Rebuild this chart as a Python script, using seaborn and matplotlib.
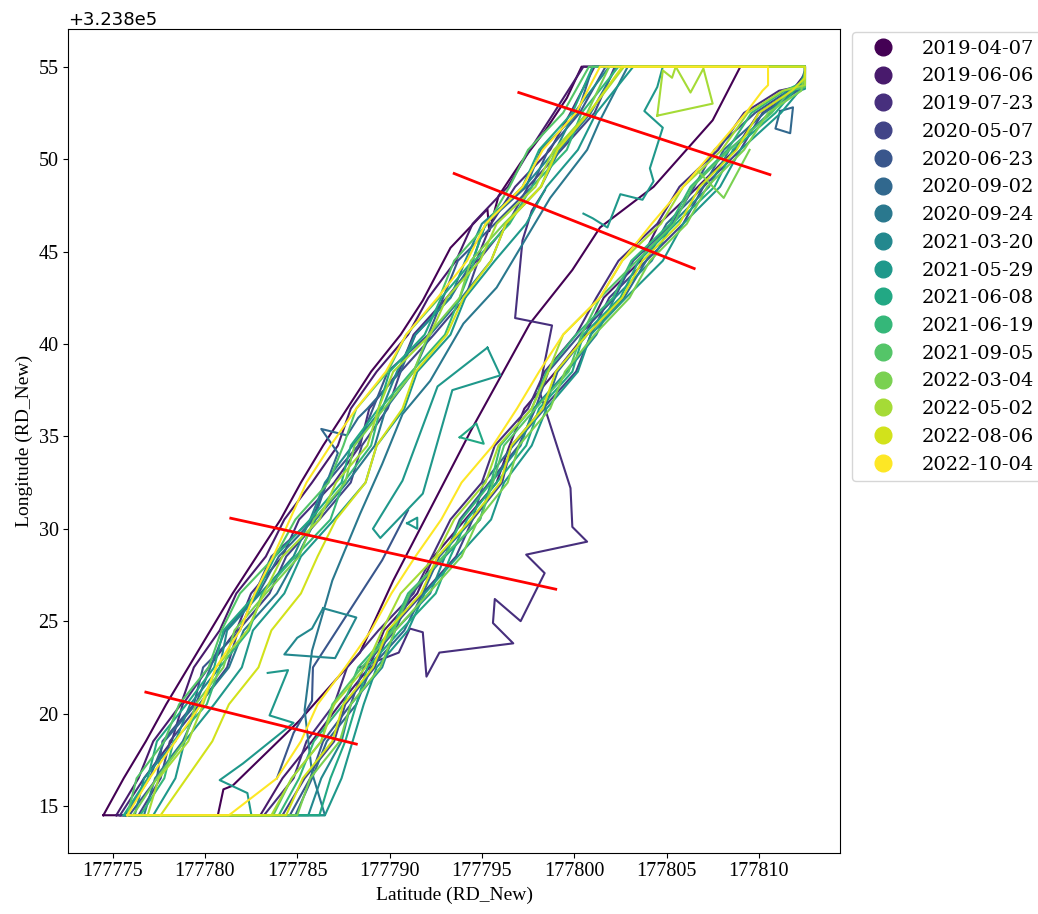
import matplotlib
matplotlib.use("Agg")
import matplotlib.pyplot as plt
from matplotlib.lines import Line2D
import numpy as np
import pandas as pd
import seaborn as sns

# Local grid origin (RD_New); all bank positions below are metres from it.
E0 = 177775.0
N0 = 323800.0

DATES = ["2019-04-07", "2019-06-06", "2019-07-23", "2020-05-07", "2020-06-23",
         "2020-09-02", "2020-09-24", "2021-03-20", "2021-05-29", "2021-06-08",
         "2021-06-19", "2021-09-05", "2022-03-04", "2022-05-02", "2022-08-06",
         "2022-10-04"]

# Section limits of the surveyed reach
N_NORTH = 55.0
E_EAST = 37.5

# Northings at which the west bank is sampled (south -> north)
LEFT_N = [14.5, 16.5, 18.5, 20.5, 22.5, 24.5, 26.5, 28.5, 30.5, 32.5, 34.5,
          36.5, 38.5, 40.5, 42.5, 44.5, 46.5, 48.5, 50.5, 52.5, 55.0]
# Northings at which the east bank is sampled (north -> south)
RIGHT_N = [53.7, 52.5, 50.5, 48.5, 46.5, 44.5, 42.5, 40.5, 38.5, 36.5, 34.5,
           32.5, 30.5, 28.5, 26.5, 24.5, 22.5, 20.5, 18.5, 16.5, 14.5]

# West bank eastings per survey
LEFT_E = {
    "2019-06-06": [0.2, 1.4, 2.2, 3.7, 4.4, 5.8, 6.7, 8.3, 9.3, 10.8, 12.2, 12.9, 14.3, 16.0, 17.1, 18.6, 19.5, 21.4, 22.6, 23.9, 25.5],
    "2019-07-23": [0.4, 1.7, 3.2, 3.8, 5.2, 6.7, 7.5, 9.2, 10.1, 12.0, 13.4, 13.9, 15.5, 16.3, 18.1, 19.7, 20.5, 21.8, 23.7, 24.8, 26.1],
    "2020-05-07": [1.4, 2.6, 3.1, 4.7, 6.2, 6.8, 8.5, 9.4, 11.2, 12.9, 13.5, 14.9, 15.6, 17.4, 19.1, 19.8, 21.4, 22.5, 24.3, 26.1, 27.2],
    "2020-06-23": [0.9, 2.4, 2.7, 4.4, 4.9, 6.9, 7.7, 8.6, 10.8, 11.6, 13.3, 14.1, 14.9, 17.1, 17.9, 18.7, 20.7, 22.7, 23.6, 25.3, 26.7],
    "2020-09-24": [1.7, 2.3, 3.8, 4.7, 6.3, 7.1, 8.9, 10.0, 11.0, 12.7, 14.2, 14.8, 16.3, 17.2, 18.9, 20.5, 21.3, 23.2, 24.2, 25.9, 27.3],
    "2021-03-20": [1.2, 1.7, 3.4, 4.2, 5.8, 6.2, 8.0, 9.8, 10.7, 11.5, 13.0, 14.6, 15.4, 16.4, 18.3, 19.1, 20.0, 22.3, 24.0, 25.0, 26.9],
    "2021-05-29": [2.2, 3.4, 3.9, 5.5, 7.0, 7.6, 9.3, 10.2, 12.0, 13.7, 14.3, 15.8, 16.5, 18.3, 19.1, 20.7, 22.4, 23.5, 25.2, 26.2, 28.2],
    "2021-06-08": [0.6, 1.9, 2.4, 4.0, 5.5, 6.0, 7.8, 8.8, 10.7, 12.4, 12.9, 14.4, 15.0, 16.9, 17.8, 19.5, 20.2, 22.2, 23.1, 24.9, 26.0],
    "2021-06-19": [1.5, 2.8, 3.3, 5.1, 5.8, 7.4, 8.1, 9.9, 11.8, 12.5, 14.0, 14.5, 16.2, 18.0, 18.8, 19.6, 21.5, 22.7, 24.6, 25.4, 27.4],
    "2021-09-05": [0.8, 1.3, 2.8, 3.6, 5.2, 5.9, 6.9, 8.8, 9.9, 11.7, 12.5, 13.2, 14.9, 15.9, 17.7, 18.5, 20.3, 21.5, 22.5, 24.4, 25.8],
    "2022-03-04": [1.1, 2.4, 3.9, 4.5, 6.0, 6.6, 8.3, 10.1, 10.9, 12.6, 13.1, 14.7, 16.3, 17.1, 18.8, 19.4, 21.2, 23.2, 24.0, 25.7, 26.9],
    "2022-05-02": [1.9, 2.5, 4.1, 4.9, 5.6, 7.3, 8.2, 9.2, 11.2, 12.1, 13.8, 14.4, 15.2, 17.2, 18.1, 19.9, 20.8, 22.9, 23.9, 25.8, 27.7],
    "2022-08-06": [2.6, 4.0, 5.4, 6.3, 7.9, 8.6, 10.2, 11.1, 12.1, 13.7, 14.3, 15.7, 16.4, 18.1, 19.0, 20.5, 21.3, 23.2, 24.1, 25.8, 27.6],
    "2022-10-04": [0.8, 2.0, 3.4, 4.8, 5.6, 6.9, 7.7, 8.7, 9.6, 10.5, 11.8, 13.2, 14.8, 15.9, 17.6, 19.2, 20.2, 22.2, 23.3, 25.1, 26.4],
}

# East bank eastings per survey
RIGHT_E = {
    "2019-06-06": [36.8, 35.0, 33.7, 31.7, 29.6, 28.6, 26.6, 25.6, 24.0, 22.3, 21.5, 20.8, 19.1, 17.4, 16.5, 14.7, 13.9, 12.3, 10.8, 9.2, 8.0],
    "2019-07-23": [36.1, 34.2, 32.8, 30.7, 29.5, 27.4, 26.2, 25.1, 23.4, 22.5, 20.7, 20.0, 18.3, 17.3, 16.3, 14.4, 12.7, 12.0, 10.5, 9.8, 8.2],
    "2020-05-07": [37.0, 35.2, 34.0, 32.0, 30.9, 28.9, 26.9, 25.9, 25.1, 23.3, 21.6, 21.1, 19.5, 18.6, 16.8, 15.0, 14.2, 12.6, 12.0, 10.4, 9.2],
    "2020-06-23": [36.6, 34.8, 32.6, 31.5, 30.3, 28.2, 27.2, 25.3, 23.6, 22.9, 22.0, 20.4, 18.8, 18.0, 16.2, 15.3, 13.6, 12.9, 11.4, 10.7, 9.6],
    "2020-09-02": [37.1, 35.3, 33.1, 32.0, 30.0, 28.9, 27.7, 25.7, 24.1, 23.4, 21.7, 20.1, 19.5, 17.7, 16.8, 15.8, 14.0, 13.2, 11.6, 10.8, 9.9],
    "2021-03-20": [36.5, 35.6, 33.4, 32.3, 30.3, 29.2, 27.2, 26.2, 24.6, 22.8, 22.1, 20.5, 19.9, 18.0, 17.2, 15.3, 14.6, 12.9, 12.4, 11.3, 10.6],
    "2021-05-29": [37.2, 36.2, 34.0, 32.9, 30.9, 29.8, 27.8, 25.9, 25.2, 23.5, 22.7, 21.2, 20.5, 18.7, 16.9, 16.0, 14.3, 13.6, 13.0, 12.4, 11.5],
    "2021-06-08": [36.9, 35.9, 33.6, 32.6, 30.5, 28.5, 27.5, 25.5, 24.9, 23.1, 22.4, 20.8, 19.2, 18.3, 17.5, 15.6, 13.8, 13.2, 12.6, 11.8, 11.2],
    "2021-06-19": [36.4, 34.6, 33.3, 31.3, 30.2, 28.1, 27.1, 25.1, 23.5, 22.7, 21.0, 20.5, 18.9, 18.0, 16.0, 15.1, 13.3, 12.5, 10.9, 10.1, 9.0],
    "2021-09-05": [36.7, 35.7, 33.4, 31.4, 30.4, 28.4, 26.4, 25.4, 24.7, 22.9, 21.2, 20.6, 19.9, 17.9, 16.1, 15.2, 13.5, 11.9, 11.3, 9.7, 8.7],
    "2022-03-04": [37.3, 35.5, 34.2, 32.2, 31.1, 29.1, 28.0, 26.1, 24.5, 23.7, 22.0, 21.4, 19.8, 18.9, 17.1, 15.3, 14.5, 12.9, 12.3, 10.7, 10.0],
    "2022-05-02": [36.3, 34.4, 33.0, 30.9, 29.7, 27.6, 26.4, 24.4, 23.6, 22.7, 20.9, 20.2, 18.5, 17.5, 15.6, 14.6, 13.7, 12.0, 11.3, 9.7, 8.6],
    "2022-08-06": [36.8, 35.0, 33.8, 31.8, 30.7, 28.7, 27.6, 25.7, 24.0, 23.3, 21.6, 21.0, 19.4, 17.6, 16.7, 14.9, 14.1, 12.5, 11.9, 10.3, 9.4],
    "2022-10-04": [35.2, 34.3, 32.6, 30.9, 29.2, 27.6, 26.4, 24.4, 23.1, 21.9, 20.6, 18.9, 17.8, 16.4, 15.1, 14.0, 12.6, 11.1, 10.2, 8.9, 6.3],
}

# Where each outline leaves the northern limit: (easting, northing after the corner)
TOP_EAST = {
    "2019-06-06": (E_EAST, 54.6), "2019-07-23": (E_EAST, 54.0), "2020-05-07": (E_EAST, 53.9),
    "2020-06-23": (E_EAST, 54.3), "2020-09-02": (E_EAST, 54.8), "2021-03-20": (E_EAST, 54.1),
    "2021-05-29": (E_EAST, 53.8), "2021-06-08": (E_EAST, 54.5), "2021-06-19": (E_EAST, 54.2),
    "2021-09-05": (E_EAST, 53.9), "2022-03-04": (E_EAST, 54.7), "2022-05-02": (E_EAST, 54.0),
    "2022-08-06": (E_EAST, 54.4), "2022-10-04": (35.5, 54.0),
}

# Banks with irregular sampling
LEFT_0407_E = [-0.5, 0.6, 1.8, 2.9, 4.1, 5.3, 6.5, 7.8, 9.1, 10.2, 11.4, 12.7, 14.0, 15.6, 16.8,
               18.3, 20.3, 20.4, 20.9, 22.1, 23.4, 24.6, 25.4]
LEFT_0407_N = [14.5, 16.5, 18.5, 20.5, 22.5, 24.5, 26.5, 28.5, 30.5, 32.5, 34.5, 36.5, 38.5, 40.5, 42.35,
               45.2, 47.3, 46.1, 48.0, 49.8, 51.5, 53.3, 55.0]
RIGHT_0407_E = [34.0, 32.5, 29.3, 26.4, 24.9, 22.6, 19.4, 15.2, 13.4, 10.1, 6.5, 6.0, 5.7]
RIGHT_0407_N = [55.0, 52.1, 48.5, 46.3, 44.0, 41.1, 35.3, 27.2, 23.3, 19.6, 16.1, 15.9, 14.5]

LEFT_0902_E = [0.7, 2.0, 2.8, 4.5, 5.3, 6.1, 7.9, 9.0, 10.9, 11.6, 11.9, 12.2, 11.3, 12.7, 13.3,
               13.8, 15.6, 16.4, 18.3, 19.5, 20.2, 22.4, 23.2, 25.2, 26.0]
LEFT_0902_N = [14.5, 16.5, 18.5, 20.5, 22.5, 24.5, 26.5, 28.5, 30.5, 32.5, 33.3, 34.1, 35.4, 35.05, 36.0,
               36.5, 38.5, 40.5, 42.5, 44.5, 46.5, 48.5, 50.5, 52.5, 55.0]

RIGHT_0924_E = [27.9, 26.4, 25.7, 23.7, 20.8, 19.0, 17.2, 15.7, 14.6, 13.4, 11.9, 10.8, 10.4, 10.8, 11.5]
RIGHT_0924_N = [55.0, 52.1, 50.5, 47.9, 43.05, 41.1, 38.0, 36.2, 33.5, 30.8, 27.2, 23.4, 20.2, 16.8, 14.5]

LEFT_CUSTOM = {"2019-04-07": (LEFT_0407_E, LEFT_0407_N),
               "2020-09-02": (LEFT_0902_E, LEFT_0902_N)}
RIGHT_CUSTOM = {"2019-04-07": (RIGHT_0407_E, RIGHT_0407_N),
                "2020-09-24": (RIGHT_0924_E, RIGHT_0924_N)}

# Bars, side channels and other separate contour pieces
SPUR_0723_E = [23.4, 22.7, 22.2, 21.8, 23.8, 23.1, 24.8, 24.9, 25.7, 22.4, 23.4, 22.1, 20.7, 20.6,
               21.7, 17.7, 17.0, 16.8, 16.1, 15.5, 13.4]
SPUR_0723_N = [48.3, 47.2, 45.6, 41.4, 41.0, 37.5, 32.2, 30.1, 29.3, 28.6, 27.6, 25.0, 26.2, 24.9,
               23.8, 23.3, 22.0, 24.4, 24.6, 23.3, 22.5]
CHANNEL_0623_E = [16.0, 14.6, 10.85, 10.8, 9.8, 8.9]
CHANNEL_0623_N = [31.0, 28.3, 22.5, 20.7, 18.95, 16.5]
BAR_0320_E = [11.4, 13.2, 12.05, 9.3, 10.0, 10.8, 11.4]
BAR_0320_N = [25.7, 25.2, 23.0, 23.2, 24.1, 24.6, 25.7]
BAR_0529_E = [20.3, 21.0, 18.4, 16.8, 14.5, 14.1, 15.7, 17.6, 20.3]
BAR_0529_N = [39.8, 38.3, 37.5, 31.9, 29.5, 30.0, 32.6, 37.7, 39.8]
SOUTH_0529_E = [8.4, 9.5, 8.5, 9.8, 7.06, 5.8, 7.3, 7.5]
SOUTH_0529_N = [22.2, 22.35, 19.9, 19.5, 17.3, 16.4, 15.7, 14.6]
NORTH_0529_E = [29.8, 29.5, 28.8, 29.8, 29.1, 29.3, 28.7, 27.5, 26.8, 26.0, 25.5]
NORTH_0529_N = [55.0, 53.9, 52.6, 51.7, 49.5, 48.8, 47.8, 48.1, 46.3, 46.8, 47.05]
POOL_0529_E = [15.95, 16.5, 16.5, 15.95]
POOL_0529_N = [30.3, 30.6, 30.0, 30.3]
POOL_0608_E = [18.8, 19.7, 20.1, 18.8]
POOL_0608_N = [34.95, 35.7, 34.6, 34.95]
POOL_0902_E = [36.15, 36.85, 36.7, 35.9, 36.15]
POOL_0902_N = [52.6, 52.8, 51.4, 51.65, 52.6]
BANK_0304_E = [34.5, 33.1, 31.65]
BANK_0304_N = [50.5, 47.9, 49.4]
BAR_0502_E = [29.5, 29.8, 30.3, 30.5, 31.3, 32.0, 32.5, 29.5]
BAR_0502_N = [52.35, 54.8, 54.4, 55.0, 53.6, 54.9, 53.0, 52.35]

EXTRA = [
    ("2019-07-23", SPUR_0723_E, SPUR_0723_N),
    ("2020-06-23", CHANNEL_0623_E, CHANNEL_0623_N),
    ("2020-09-02", POOL_0902_E, POOL_0902_N),
    ("2021-03-20", BAR_0320_E, BAR_0320_N),
    ("2021-05-29", BAR_0529_E, BAR_0529_N),
    ("2021-05-29", SOUTH_0529_E, SOUTH_0529_N),
    ("2021-05-29", NORTH_0529_E, NORTH_0529_N),
    ("2021-05-29", POOL_0529_E, POOL_0529_N),
    ("2021-06-08", POOL_0608_E, POOL_0608_N),
    ("2022-03-04", BANK_0304_E, BANK_0304_N),
    ("2022-05-02", BAR_0502_E, BAR_0502_N),
]

# Cross-section transects (start / end), local coordinates
TRANSECT_E = [(22.0, 35.6), (18.5, 31.5), (6.4, 24.0), (1.8, 13.2)]
TRANSECT_N = [(53.6, 49.16), (49.22, 44.08), (30.57, 26.73), (21.16, 18.35)]

# ---------------------------------------------------------------- tables
rows = []


def add_part(date, part, es, ns):
    for e, n in zip(es, ns):
        rows.append({"date": date, "part": part, "E": E0 + e, "N": N0 + n})


for d in DATES:
    le, ln = LEFT_CUSTOM.get(d, (LEFT_E.get(d), LEFT_N))
    re_, rn = RIGHT_CUSTOM.get(d, (RIGHT_E.get(d), RIGHT_N))
    es, ns = list(le), list(ln)
    if d in TOP_EAST:
        te, tn = TOP_EAST[d]
        es += [te, te]
        ns += [N_NORTH, tn]
    es += list(re_)
    ns += list(rn)
    es.append(le[0])
    ns.append(ln[0])
    add_part(d, d + "/outline", es, ns)

for i, (d, es, ns) in enumerate(EXTRA):
    add_part(d, f"{d}/piece{i}", es, ns)

contours = pd.DataFrame(rows)

tr_rows = []
for k, (es, ns) in enumerate(zip(TRANSECT_E, TRANSECT_N)):
    for e, n in zip(es, ns):
        tr_rows.append({"transect": k, "E": E0 + e, "N": N0 + n})
transects = pd.DataFrame(tr_rows)

# ---------------------------------------------------------------- figure
colors = [matplotlib.colormaps["viridis"](v) for v in np.linspace(0, 1, len(DATES))]
palette = dict(zip(DATES, colors))

plt.rcParams["font.family"] = ["Liberation Serif", "DejaVu Serif"]

fig = plt.figure(figsize=(10.38, 9.14), dpi=100)
ax = fig.add_axes([0.0658, 0.0671, 0.7435, 0.9009])

sns.lineplot(data=contours, x="E", y="N", hue="date", hue_order=DATES, units="part",
             estimator=None, sort=False, palette=palette, linewidth=1.5,
             legend=False, ax=ax)
sns.lineplot(data=transects, x="E", y="N", units="transect", estimator=None, sort=False,
             color="red", linewidth=2.0, legend=False, ax=ax)

ax.set_xlabel("Latitude (RD_New)", fontsize=14)
ax.set_ylabel("Longitude (RD_New)", fontsize=14)
ax.tick_params(axis="both", labelsize=14.5)
ax.set_xticks(np.arange(177775, 177811, 5))
ax.set_yticks(np.arange(N0 + 15, N0 + 56, 5))

off = ax.yaxis.get_offset_text()
off.set_fontfamily("DejaVu Sans")
off.set_fontsize(13)

handles = [Line2D([0], [0], marker="o", linestyle="None", markersize=12,
                  markerfacecolor=palette[d], markeredgecolor=palette[d]) for d in DATES]
ax.legend(handles, DATES, loc="upper left", bbox_to_anchor=(1.0156, 0.9967),
          borderaxespad=0, handlelength=2.4, handletextpad=0.8,
          prop={"family": "DejaVu Serif", "size": 14})

fig.savefig("out.png", dpi=100)
